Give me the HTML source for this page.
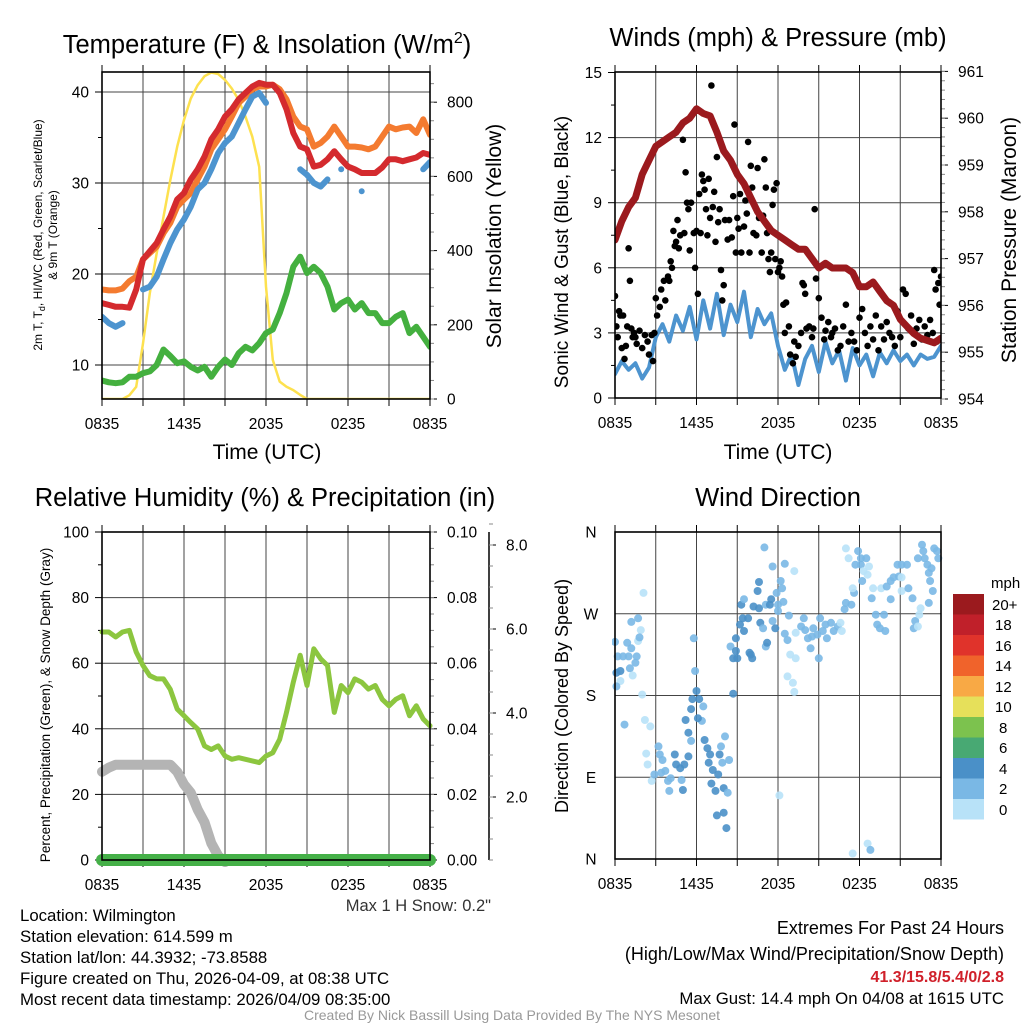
<!DOCTYPE html>
<html><head><meta charset="utf-8"><style>
html,body{margin:0;padding:0;background:#fff;}
svg{display:block;font-family:"Liberation Sans",sans-serif;}
</style></head><body>
<svg id="chart" width="1024" height="1024" viewBox="0 0 1024 1024" xmlns="http://www.w3.org/2000/svg">
<defs>
<clipPath id="c1"><rect x="102" y="72" width="328" height="327"/></clipPath>
<clipPath id="c2"><rect x="615" y="72" width="326" height="326"/></clipPath>
<clipPath id="c3"><rect x="95" y="532" width="342" height="335"/></clipPath>
<clipPath id="c4"><rect x="612" y="529" width="332" height="333"/></clipPath>
</defs>
<rect x="0" y="0" width="1024" height="1024" fill="#fff"/>
<g id="layer"></g>
<text x="267" y="53" font-size="25.5" text-anchor="middle">Temperature (F) &amp; Insolation (W/m<tspan dy="-10" font-size="16">2</tspan><tspan dy="10">)</tspan></text>
<text x="778" y="46" font-size="25.5" text-anchor="middle">Winds (mph) &amp; Pressure (mb)</text>
<text x="265" y="506" font-size="25.5" text-anchor="middle">Relative Humidity (%) &amp; Precipitation (in)</text>
<text x="778" y="506" font-size="25.5" text-anchor="middle">Wind Direction</text>
<text x="267" y="459" font-size="21" text-anchor="middle">Time (UTC)</text>
<text x="778" y="459" font-size="21" text-anchor="middle">Time (UTC)</text>
<text transform="translate(42,235) rotate(-90)" font-size="12" text-anchor="middle">2m T, T<tspan font-size="9" dy="3">d</tspan><tspan dy="-3">, HI/WC (Red, Green, Scarlet/Blue)</tspan></text>
<text transform="translate(57,235) rotate(-90)" font-size="12" text-anchor="middle">&amp; 9m T (Orange)</text>
<text transform="translate(501,236) rotate(-90)" font-size="21" text-anchor="middle">Solar Insolation (Yellow)</text>
<text transform="translate(568,252) rotate(-90)" font-size="19" text-anchor="middle">Sonic Wind &amp; Gust (Blue, Black)</text>
<text transform="translate(1016,240) rotate(-90)" font-size="21" text-anchor="middle">Station Pressure (Maroon)</text>
<text transform="translate(50,705) rotate(-90)" font-size="13.5" text-anchor="middle">Percent, Precipitation (Green), &amp; Snow Depth (Gray)</text>
<text transform="translate(568,696) rotate(-90)" font-size="18" text-anchor="middle">Direction (Colored By Speed)</text>
<text x="491" y="911" font-size="16.5" fill="#333" text-anchor="end">Max 1 H Snow: 0.2"</text>
<g font-size="15">
<text x="991" y="588">mph</text>
<rect x="953" y="594" width="31" height="20.5" fill="#9b1a1e"/>
<rect x="953" y="614.5" width="31" height="20.5" fill="#c0202a"/>
<rect x="953" y="635" width="31" height="20.5" fill="#e0332b"/>
<rect x="953" y="655.5" width="31" height="20.5" fill="#f0632b"/>
<rect x="953" y="676" width="31" height="20.5" fill="#f8a945"/>
<rect x="953" y="696.5" width="31" height="20.5" fill="#e6e05a"/>
<rect x="953" y="717" width="31" height="20.5" fill="#7cc24e"/>
<rect x="953" y="737.5" width="31" height="20.5" fill="#48a973"/>
<rect x="953" y="758" width="31" height="20.5" fill="#4a90c8"/>
<rect x="953" y="778.5" width="31" height="20.5" fill="#7ab8e5"/>
<rect x="953" y="799" width="31" height="20.5" fill="#b8e2f8"/>
<text x="992" y="610">20+</text>
<text x="995" y="630">18</text>
<text x="995" y="651">16</text>
<text x="995" y="671">14</text>
<text x="995" y="692">12</text>
<text x="995" y="712">10</text>
<text x="999" y="733">8</text>
<text x="999" y="753">6</text>
<text x="999" y="774">4</text>
<text x="999" y="794">2</text>
<text x="999" y="815">0</text>
</g>
<g font-size="16.8">
<text x="20" y="921">Location: Wilmington</text>
<text x="20" y="942">Station elevation: 614.599 m</text>
<text x="20" y="963">Station lat/lon: 44.3932; -73.8588</text>
<text x="20" y="984">Figure created on Thu, 2026-04-09, at 08:38 UTC</text>
<text x="20" y="1005">Most recent data timestamp: 2026/04/09 08:35:00</text>
</g>
<g text-anchor="end">
<text x="1004" y="934" font-size="18">Extremes For Past 24 Hours</text>
<text x="1004" y="960" font-size="18">(High/Low/Max Wind/Precipitation/Snow Depth)</text>
<text x="1004" y="982" font-size="16" fill="#d0202a" font-weight="bold">41.3/15.8/5.4/0/2.8</text>
<text x="1004" y="1004" font-size="16.8">Max Gust: 14.4 mph On 04/08 at 1615 UTC</text>
</g>
<text x="512" y="1020" font-size="14" fill="#999" text-anchor="middle">Created By Nick Bassill Using Data Provided By The NYS Mesonet</text>
</svg>
<script>
// ---- data ----
const xTickLabels = ['0835','1435','2035','0235','0835'];
const temp2m = [16.8,16.6,16.4,16.4,16.3,18.3,21.6,22.5,23.4,24.9,26.3,28.2,28.9,30.4,31.5,32.9,34.8,35.9,37.3,38.1,39.2,39.9,40.6,41.0,40.8,40.8,39.9,38.1,35.5,34.0,33.7,31.8,32.0,32.6,33.5,32.6,31.8,31.5,31.1,31.1,31.1,31.7,32.6,32.6,32.4,32.6,32.8,33.3,33.1];
const temp9m = [18.3,18.2,18.2,18.4,19.2,19.7,21.6,22.3,23.0,24.5,25.6,27.4,28.2,28.9,30.4,31.8,33.7,34.8,35.9,37.3,38.8,39.5,40.3,40.6,40.6,40.8,40.3,39.2,37.3,36.2,35.9,34.0,34.4,35.1,36.2,35.1,34.0,34.0,33.9,33.7,34.0,35.1,36.2,35.9,36.1,36.2,35.5,37.0,35.3];
const dewpoint = [8.3,8.1,8.0,8.1,8.7,8.7,9.1,9.3,10.0,11.7,11.0,10.2,10.4,9.8,9.4,9.8,8.7,9.8,10.6,10.0,11.3,12.0,11.6,12.4,13.5,13.9,15.7,17.9,20.8,21.9,20.1,20.8,20.1,18.6,16.1,16.8,17.2,16.1,16.8,15.7,15.7,14.6,14.6,15.3,15.7,13.5,14.2,13.1,12.0];
const windChill = [15.3,14.6,14.2,14.6,null,null,18.3,18.6,19.7,21.6,23.4,24.9,26.0,27.4,29.3,30.0,31.5,33.3,34.4,35.1,36.6,38.1,39.5,39.9,38.8,null,null,null,null,31.5,30.9,30.0,29.6,30.4,null,31.5,null,null,29.1,null,null,null,null,null,null,null,null,31.5,32.3];
const insolation = [0,0,0,0,10,33,150,285,393,491,590,680,752,810,846,870,880,876,860,837,806,761,707,626,303,105,47,33,24,11,0,0,0,0,0,0,0,0,0,0,0,0,0,0,0,0,0,0,0];
const pressure = [957.4,957.8,958.1,958.3,958.8,959.1,959.4,959.5,959.6,959.7,959.9,960.0,960.2,960.1,960.05,959.7,959.3,959.1,958.8,958.6,958.3,958.0,957.8,957.6,957.5,957.4,957.3,957.2,957.2,957.0,956.8,956.9,956.8,956.8,956.8,956.7,956.4,956.4,956.5,956.3,956.1,956.0,955.7,955.55,955.4,955.3,955.25,955.2,955.3];
const windSpeed = [1.1,1.7,1.3,1.6,0.9,1.4,2.8,3.4,2.6,3.8,3.1,4.2,2.7,4.5,3.2,4.8,2.9,4.3,3.5,4.9,2.8,4.1,3.4,3.9,2.4,1.3,2.0,0.6,1.8,2.4,1.2,2.6,1.6,2.2,0.8,2.3,1.5,2.0,1.0,2.1,1.6,2.2,1.7,2.0,1.5,2.0,1.8,1.9,2.4];
const gustHours = [0,0.1,0.2,0.3,0.4,0.5,0.6,0.7,0.8,0.9,1.0,1.1,1.2,1.3,1.4,1.5,1.6,1.8,2.0,2.2,2.4,2.5,2.7,2.8,2.9,3.0,3.1,3.3,3.4,3.6,3.7,3.9,4.0,4.1,4.2,4.3,4.4,4.5,4.6,4.7,4.8,5.0,5.1,5.2,5.3,5.4,5.5,5.6,5.8,5.9,6.0,6.1,6.2,6.3,6.4,6.5,6.6,6.7,6.8,6.9,7.0,7.1,7.2,7.3,7.4,7.5,7.6,7.7,7.8,7.9,8.0,8.1,8.3,8.4,8.6,8.7,8.8,8.9,9.0,9.1,9.2,9.3,9.5,9.6,9.7,9.8,9.9,10.0,10.1,10.2,10.4,10.5,10.6,10.8,10.9,11.0,11.1,11.2,11.3,11.4,11.5,11.6,11.7,11.8,11.9,12.0,12.1,12.2,12.3,12.4,12.5,12.6,12.8,12.9,13.1,13.2,13.3,13.5,13.7,13.8,13.9,14.0,14.1,14.3,14.5,14.6,14.7,14.8,15.0,15.2,15.4,15.5,15.7,15.9,16.0,16.2,16.4,16.6,16.8,17.0,17.2,17.4,17.6,17.8,18.0,18.2,18.4,18.6,18.8,19.0,19.2,19.4,19.6,19.8,20.0,20.2,20.4,20.6,20.8,21.0,21.2,21.4,21.6,21.8,22.0,22.2,22.4,22.6,22.8,23.0,23.2,23.4,23.5,23.6,23.7,23.8,23.9,24.0];
const gustSpeed = [4.7,3.3,2.8,4.0,3.8,2.3,3.8,1.8,2.4,3.3,6.9,5.4,3.2,2.8,3.0,2.8,2.5,3.1,2.3,2.9,2.6,2.0,2.9,1.7,3.0,4.6,3.8,4.2,5.0,5.4,4.5,5.6,5.4,6.3,6.0,7.7,7.0,7.2,8.2,6.9,7.5,11.9,7.6,10.4,9.0,8.7,6.8,9.0,7.6,6.0,7.7,4.8,9.4,7.6,10.3,10.0,9.6,8.7,7.5,10.1,8.3,14.4,8.8,9.5,7.2,11.1,8.1,8.7,5.9,4.5,5.2,8.2,7.3,8.2,7.4,9.3,12.6,6.7,8.3,7.8,9.4,6.7,7.9,9.1,8.5,11.8,6.7,10.7,9.7,7.6,7.5,10.6,8.3,6.7,8.4,11.0,9.7,7.6,6.4,5.8,6.7,8.9,9.6,6.4,9.9,5.8,6.0,6.3,5.6,4.3,3.0,4.4,3.3,2.0,1.6,2.6,1.9,2.4,3.0,5.3,5.2,4.8,3.2,3.3,2.8,3.2,8.7,5.5,4.6,3.7,2.7,3.1,3.5,2.8,3.0,3.2,2.2,2.4,3.3,4.3,2.6,3.0,2.6,2.2,3.7,4.1,3.0,2.4,3.3,2.7,3.8,2.2,3.3,2.7,3.5,3.0,2.8,2.4,4.0,2.8,5.0,4.8,3.2,3.8,2.5,3.2,3.6,2.7,3.3,2.9,3.6,3.0,5.9,5.0,2.6,5.3,4.3,5.6];
const humidity = [69.5,69.5,68,69.5,70,63.4,59.3,56.2,55.2,55.2,52,46,44,41.9,39.9,34.8,33.7,34.8,31.7,30.7,31.2,30.7,30.2,29.7,31.7,32.7,36.8,45,54.2,62.4,53.2,64.4,61.3,59.3,45,53.2,51,55.2,54.2,52.1,53.2,49,47,49,50.1,44,47,43,40.9];
const snowDepth = [2.6,2.7,2.77,2.77,2.77,2.77,2.77,2.77,2.77,2.77,2.77,2.6,2.3,2.1,1.7,1.4,0.9,0.6,0.45];
const precip = [0,0,0,0,0,0,0,0,0,0,0,0,0,0,0,0,0,0,0,0,0,0,0,0,0];
const dirHours = [0.0,0.2,0.6,1.0,0.4,0.1,0.4,0.1,0.9,1.2,1.6,1.5,1.1,1.3,1.7,1.9,1.8,1.2,1.7,2.1,2.0,0.7,2.2,2.6,2.3,2.4,2.7,2.9,3.2,3.3,3.5,3.7,3.4,3.9,4.0,4.1,4.4,4.5,4.8,4.9,5.1,5.0,5.4,5.6,5.4,5.2,5.6,5.7,6.0,6.2,5.9,5.8,6.5,6.4,6.1,6.6,6.8,7.0,6.9,7.2,7.6,7.1,7.4,7.7,7.8,7.9,8.0,8.3,8.1,8.0,7.5,8.2,8.7,8.4,8.5,8.7,9.0,8.9,8.9,9.2,9.4,9.3,9.5,9.5,9.8,10.0,10.1,9.9,10.2,10.5,10.6,10.6,10.7,10.9,11.1,11.2,11.1,11.5,11.4,11.6,11.8,11.9,12.0,12.0,12.2,12.3,12.4,11.6,11.0,12.5,12.1,12.5,12.7,12.8,12.9,13.3,12.7,13.1,13.2,13.2,13.3,13.7,13.9,14.0,14.2,14.4,14.5,14.6,14.9,15.1,15.0,15.3,15.5,15.6,15.9,16.1,16.4,16.6,16.7,16.9,17.0,17.4,17.6,17.5,17.7,17.9,18.1,18.1,18.3,18.5,18.7,18.2,18.6,19.0,18.9,19.2,19.3,19.5,19.8,19.9,17.2,17.0,19.6,20.0,20.3,20.3,20.5,20.8,20.9,21.1,21.1,21.1,21.5,21.6,21.9,22.0,22.1,22.3,22.5,22.4,22.6,22.7,22.8,23.0,23.1,23.2,23.3,23.4,23.5,23.7,23.8,23.1,22.3,17.5,18.6,18.8];
const dirDegrees = [239,223,223,223,207,205,196,190,238,232,223,216,210,202,240,252,244,261,265,293,181,148,153,146,116,104,86,93,124,115,109,97,95,86,75,89,115,104,100,87,104,76,113,130,139,153,165,176,185,176,207,243,168,152,155,131,122,115,106,98,93,83,75,115,124,106,78,73,135,51,48,34,182,109,234,221,221,229,243,258,265,280,286,251,265,225,221,227,278,295,305,276,260,254,234,238,280,286,280,262,254,293,280,273,306,298,283,322,343,325,70,248,241,268,225,221,201,194,184,317,249,256,265,252,243,232,245,254,247,265,221,251,258,243,260,251,256,260,251,275,282,280,293,298,324,339,331,324,317,331,322,306,313,298,287,269,258,254,269,251,331,342,298,300,306,286,310,324,311,324,310,295,324,298,287,254,262,331,276,269,346,339,331,324,315,306,320,295,342,339,331,282,256,6,17,10];
const dirSpeed = [3,3,3,3,5,5,1,3,3,3,3,3,3,1,1,1,3,3,3,1,1,3,1,1,1,1,1,3,3,3,3,3,3,3,3,3,5,5,5,3,5,5,5,3,5,5,5,5,5,5,3,3,3,3,5,5,5,5,5,5,5,5,5,5,3,3,5,3,3,5,5,5,5,3,3,5,5,5,5,5,5,5,3,5,5,5,5,5,5,5,5,5,5,3,3,5,3,5,5,3,5,3,3,3,3,3,3,3,3,3,1,3,3,3,1,1,1,1,1,1,1,3,3,3,3,3,3,3,3,3,3,3,3,3,3,3,3,1,1,3,3,3,3,1,3,3,3,3,1,3,1,3,1,1,3,3,3,3,3,3,1,1,1,3,3,3,3,3,3,3,1,1,3,3,3,3,3,3,1,1,3,3,3,3,3,3,3,3,3,3,3,3,1,1,1,3];
const speedColors = ['#b8e2f8','#7ab8e5','#4a90c8','#48a973','#7cc24e','#e6e05a','#f8a945','#f0632b','#e0332b','#c0202a','#9b1a1e'];

// ---- helpers ----
const NS = 'http://www.w3.org/2000/svg';
const layer = document.getElementById('layer');
function mk(tag, attrs, parent) {
  const e = document.createElementNS(NS, tag);
  for (const k in attrs) e.setAttribute(k, attrs[k]);
  (parent || layer).appendChild(e);
  return e;
}
const P1 = {x0:102,x1:430,y0:72,y1:399,clip:'url(#c1)'};
const P2 = {x0:615,x1:941,y0:72,y1:398,clip:'url(#c2)'};
const P3 = {x0:102,x1:430,y0:532,y1:860,clip:'url(#c3)'};
const P4 = {x0:615,x1:941,y0:532,y1:859,clip:'url(#c4)'};
function xAt(p, h) { return p.x0 + h / 24 * (p.x1 - p.x0); }
const tempY = v => 365 - (v - 10) * 9.1;
const solY = v => 399 - v * 0.371;
const windY = v => 398 - v * 21.7;
const presY = v => 399 - (v - 954) * 46.8;
const rhY = v => 860 - v * 3.28;
const precY = v => 860 - v * 3280;
const snowY = v => 881 - v * 42;
const dirY = v => 859 - v / 360 * 327;

function hLine(x1, y1, x2, y2, color, w) {
  const l = mk('line', {x1:x1, y1:y1, x2:x2, y2:y2, stroke:color, 'stroke-width':w});
  
  
  return l;
}
function label(x, y, txt, anchor, size, name) {
  const t = mk('text', {x:x, y:y, 'font-size':size, 'text-anchor':anchor});
  t.textContent = txt;
  
  
  return t;
}
function frame(p, gridVals, yf) {
  for (let h = 3; h < 24; h += 3) hLine(xAt(p,h), p.y0, xAt(p,h), p.y1, '#444', 1);
  gridVals.forEach(v => hLine(p.x0, yf(v), p.x1, yf(v), '#444', 1));
  for (let h = 0; h <= 24; h += 3) {
    hLine(xAt(p,h), p.y1, xAt(p,h), p.y1 + 7, '#000', 1);
    hLine(xAt(p,h), p.y0, xAt(p,h), p.y0 - 7, '#000', 1);
  }
  xTickLabels.forEach((s, i) => label(xAt(p, i * 6), p.y1 + 30, s, 'middle', 15.5, 'x-tick-label'));
}
function box(p) {
  const r = mk('rect', {x:p.x0, y:p.y0, width:p.x1-p.x0, height:p.y1-p.y0, fill:'none', stroke:'#000', 'stroke-width':1.6});
  
  
}
function leftTicks(p, majors, minors, yf, fmt) {
  majors.forEach(v => { hLine(p.x0 - 7, yf(v), p.x0, yf(v), '#000', 1); label(p.x0 - 13, yf(v) + 5.5, fmt(v), 'end', 15.5, 'y-tick-label'); });
  minors.forEach(v => hLine(p.x0 - 4, yf(v), p.x0, yf(v), '#000', 1));
}
function rightTicks(p, x, majors, minors, yf, fmt, name) {
  majors.forEach(v => { hLine(x, yf(v), x + 7, yf(v), '#000', 1); label(x + 17, yf(v) + 5.5, fmt(v), 'start', 15.5, name); });
  minors.forEach(v => hLine(x, yf(v), x + 4, yf(v), '#888', 1));
}
function series(p, vals, yf, color, w, name) {
  let d = '';
  let open = false;
  const n = vals.length;
  vals.forEach((v, i) => {
    if (v === null) { open = false; return; }
    const x = xAt(p, i * 24 / (n - 1)).toFixed(1), y = yf(v).toFixed(1);
    d += (open ? 'L' : 'M') + x + ' ' + y + (open ? '' : ' l0 0 ');
    open = true;
  });
  const path = mk('path', {d:d, fill:'none', stroke:color, 'stroke-width':w, 'stroke-linejoin':'round', 'stroke-linecap':'round', 'clip-path':p.clip});
  
  
  return path;
}
function seriesSpan(p, vals, hours, yf, color, w, name) {
  let d = '';
  vals.forEach((v, i) => { d += (i ? 'L' : 'M') + xAt(p, i * hours / (vals.length - 1)).toFixed(1) + ' ' + yf(v).toFixed(1); });
  const path = mk('path', {d:d, fill:'none', stroke:color, 'stroke-width':w, 'stroke-linejoin':'round', 'stroke-linecap':'round', 'clip-path':p.clip});
  
  
}
const rng = (a, b, s) => { const r = []; for (let v = a; v <= b + 1e-9; v += s) r.push(+v.toFixed(4)); return r; };

// ---- panel 1: temperature ----
frame(P1, [10,20,30,40], tempY);
leftTicks(P1, [10,20,30,40], [15,25,35], tempY, v => String(v));
rightTicks(P1, P1.x1, rng(0,800,200), rng(0,850,50), solY, v => String(v), 'insolation-tick-label');
series(P1, insolation, solY, '#fde14f', 2.5, 'insolation-line');
series(P1, dewpoint, tempY, '#44b03f', 6, 'dewpoint-line');
series(P1, temp9m, tempY, '#f47b30', 6, 'temp-9m-line');
series(P1, windChill, tempY, '#4d94cf', 6, 'windchill-line');
series(P1, temp2m, tempY, '#d42a2e', 6, 'temp-2m-line');
box(P1);

// ---- panel 2: winds ----
frame(P2, [3,6,9,12], windY);
leftTicks(P2, [0,3,6,9,12,15], [1.5,4.5,7.5,10.5,13.5], windY, v => String(v));
rightTicks(P2, P2.x1, rng(954,961,1), rng(954,961,0.2), presY, v => String(v), 'pressure-tick-label');
series(P2, windSpeed, windY, '#4d94cf', 4, 'wind-speed-line');
gustHours.forEach((h, i) => {
  const c = mk('circle', {cx:xAt(P2,h).toFixed(1), cy:windY(gustSpeed[i]).toFixed(1), r:3.3, fill:'#000', 'clip-path':P2.clip});
  
  
});
series(P2, pressure, presY, '#9b1a1e', 7, 'pressure-line');
box(P2);

// ---- panel 3: humidity ----
frame(P3, [20,40,60,80], rhY);
leftTicks(P3, [0,20,40,60,80,100], [10,30,50,70,90], rhY, v => String(v));
rightTicks(P3, P3.x1, rng(0,0.1,0.02), rng(0,0.1,0.005), precY, v => v.toFixed(2), 'precip-tick-label');
hLine(489, 532, 489, 860, '#000', 1.5);
rightTicks(P3, 489, [2,4,6,8], rng(0.5,8.5,0.5), snowY, v => v.toFixed(1), 'snow-tick-label');
seriesSpan(P3, snowDepth, 9, snowY, '#b4b4b4', 10, 'snow-depth-line');
series(P3, humidity, rhY, '#8cc63f', 5, 'humidity-line');
series(P3, precip, precY, '#45b048', 12, 'precip-line');
box(P3);

// ---- panel 4: wind direction ----
frame(P4, [90,180,270], dirY);
const dirLabels = ['N','E','S','W','N'];
dirLabels.forEach((s, i) => label(P4.x0 - 24, dirY(i * 90) + 5.5, s, 'middle', 15.5, 'direction-tick-label'));
dirHours.forEach((h, i) => {
  const c = mk('circle', {cx:xAt(P4,h).toFixed(1), cy:dirY(dirDegrees[i]).toFixed(1), r:4, fill:speedColors[Math.min(10, Math.floor(dirSpeed[i] / 2))], 'fill-opacity':0.9, 'clip-path':P4.clip});
  
  
});
box(P4);
</script>
</body></html>
